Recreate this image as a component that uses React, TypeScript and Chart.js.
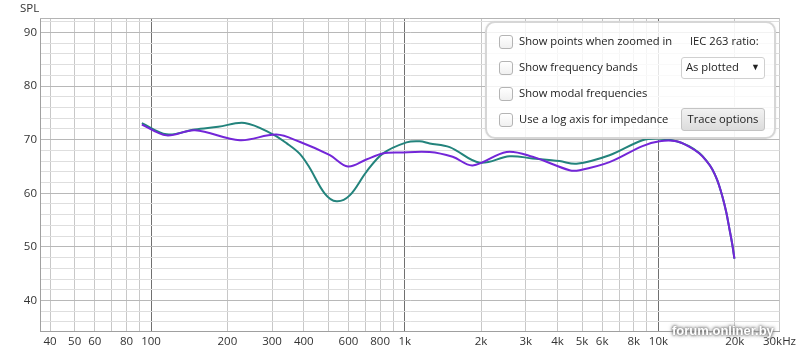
import React, { useEffect, useRef } from "react";
import { Chart, registerables } from "chart.js";
Chart.register(...registerables);

// ---- data ----
const tealFreq = [92, 115, 149, 184, 234, 302, 343, 385, 420, 483, 538, 607, 706, 819, 1016, 1145, 1254, 1503, 1974, 2591, 3190, 4077, 4753, 6412, 8650, 10090, 11770, 13200, 14500, 15450, 16300, 17070, 17870, 18520, 19040, 19560, 19930];
const tealSpl = [73.1, 71.0, 71.9, 72.4, 73.1, 71.0, 69.3, 67.4, 64.9, 60.0, 58.5, 59.6, 64.0, 67.4, 69.5, 69.7, 69.3, 68.6, 65.7, 66.9, 66.5, 66.0, 65.5, 67.1, 69.9, 70.2, 69.7, 68.8, 67.5, 66.1, 64.5, 62.4, 59.4, 56.4, 53.4, 50.4, 47.8];

const purpleFreq = [92, 115, 149, 224, 312, 385, 507, 597, 706, 819, 955, 1254, 1545, 1853, 2521, 3190, 4463, 4887, 6412, 8650, 10090, 11770, 13200, 14500, 15450, 16300, 17070, 17870, 18520, 19040, 19560, 19930];
const purpleSpl = [72.8, 70.8, 71.75, 69.9, 70.95, 69.6, 67.1, 65.0, 66.3, 67.4, 67.6, 67.7, 66.8, 65.2, 67.7, 66.8, 64.3, 64.3, 65.8, 68.8, 69.7, 69.7, 68.7, 67.4, 66.05, 64.5, 62.4, 59.4, 56.4, 53.4, 50.4, 47.8];

const xGridValues = [40, 50, 60, 70, 80, 90, 100, 200, 300, 400, 500, 600, 700, 800, 900, 1000, 2000, 3000, 4000, 5000, 6000, 7000, 8000, 9000, 10000, 20000, 30000];
const xMajorValues = [100, 1000, 10000];
const xLabelValues = [40, 50, 60, 80, 100, 200, 300, 400, 600, 800, 1000, 2000, 3000, 4000, 5000, 6000, 8000, 10000, 20000, 30000];
const xLabelTexts = ["40", "50", "60", "80", "100", "200", "300", "400", "600", "800", "1k", "2k", "3k", "4k", "5k", "6k", "8k", "10k", "20k", "30kHz"];

const yGridValues = [36, 38, 40, 42, 44, 46, 48, 50, 52, 54, 56, 58, 60, 62, 64, 66, 68, 70, 72, 74, 76, 78, 80, 82, 84, 86, 88, 90, 92];
const yLabelValues = [40, 50, 60, 70, 80, 90];

const legendRows = ["Show points when zoomed in", "Show frequency bands", "Show modal frequencies", "Use a log axis for impedance"];

const framePlugin = {
  id: "frame",
  beforeDatasetsDraw(chart: any) {
    const { ctx, chartArea } = chart;
    ctx.save();
    ctx.strokeStyle = "#b4b4b4";
    ctx.lineWidth = 1;
    ctx.beginPath();
    ctx.moveTo(chartArea.left, chartArea.top + 0.5);
    ctx.lineTo(chartArea.right, chartArea.top + 0.5);
    ctx.stroke();
    ctx.restore();
  },
};

export default function App() {
  const ref = useRef<HTMLCanvasElement>(null);
  useEffect(() => {
    document.body.style.margin = "0";
    const font = { family: '"Open Sans", sans-serif', size: 11.5 };
    const chart = new Chart(ref.current as HTMLCanvasElement, {
      type: "line",
      data: {
        datasets: [
          {
            data: purpleFreq.map((f, i) => ({ x: f, y: purpleSpl[i] })),
            borderColor: "#7326d8",
            borderWidth: 2,
            pointRadius: 0,
            tension: 0.35,
            fill: false,
          },
          {
            data: tealFreq.map((f, i) => ({ x: f, y: tealSpl[i] })),
            borderColor: "#23837c",
            borderWidth: 2,
            pointRadius: 0,
            tension: 0.35,
            fill: false,
          },
        ],
      },
      options: {
        animation: false,
        responsive: false,
        devicePixelRatio: 1,
        layout: { padding: { top: 18, right: 20, left: 0, bottom: 0 } },
        plugins: { legend: { display: false }, tooltip: { enabled: false } },
        scales: {
          x: {
            type: "logarithmic",
            min: 36.5,
            max: 30000,
            afterBuildTicks: (scale: any) => {
              scale.ticks = xGridValues.map((v) => ({ value: v }));
            },
            afterFit: (scale: any) => {
              scale.height = 23;
            },
            ticks: {
              autoSkip: false,
              maxRotation: 0,
              minRotation: 0,
              padding: 4,
              color: "#333",
              font,
              callback: (v: any) => {
                const i = xLabelValues.indexOf(Number(v));
                return i >= 0 ? xLabelTexts[i] : "";
              },
            },
            grid: {
              drawTicks: false,
              color: (c: any) => (c.tick && xMajorValues.includes(c.tick.value) ? "#707070" : "#c8c8c8"),
            },
            border: { display: true, color: "#a0a0a0" },
          },
          y: {
            type: "linear",
            min: 34.3,
            max: 92.7,
            afterBuildTicks: (scale: any) => {
              scale.ticks = yGridValues.map((v) => ({ value: v }));
            },
            afterFit: (scale: any) => {
              scale.width = 40;
            },
            ticks: {
              autoSkip: false,
              padding: 3,
              color: "#333",
              font,
              callback: (v: any) => (yLabelValues.includes(Number(v)) ? String(v) : ""),
            },
            grid: {
              drawTicks: false,
              color: (c: any) => (c.tick && c.tick.value % 10 === 0 ? "#b8b8b8" : "#dedede"),
            },
            border: { display: true, color: "#a0a0a0" },
          },
        },
      },
      plugins: [framePlugin],
    } as any);
    return () => chart.destroy();
  }, []);

  const rowTops = [42, 68, 94, 120];
  const textStyle: React.CSSProperties = {
    position: "absolute",
    fontSize: 11.2,
    color: "#222",
    whiteSpace: "nowrap",
    lineHeight: "14px",
  };
  return (
    <div
      style={{
        position: "relative",
        width: 800,
        height: 354,
        background: "#fff",
        overflow: "hidden",
        fontFamily: '"Open Sans", sans-serif',
      }}
    >
      <canvas ref={ref} width={800} height={354} style={{ position: "absolute", left: 0, top: 0, width: 800, height: 354 }} />
      <div style={{ ...textStyle, left: 20, top: 1, fontSize: 11.5, color: "#333" }}>SPL</div>
      <div
        style={{
          position: "absolute",
          left: 485,
          top: 21,
          width: 287,
          height: 114,
          border: "2px solid #d6d6d6",
          borderRadius: 10,
          background: "rgba(255,255,255,0.82)",
          boxShadow: "0 0 2px rgba(0,0,0,0.1)",
        }}
      />
      {legendRows.map((t, i) => (
        <React.Fragment key={t}>
          <div
            style={{
              position: "absolute",
              left: 499,
              top: rowTops[i] - 7,
              width: 12,
              height: 12,
              border: "1px solid #b4b4b4",
              borderRadius: 3,
              background: "linear-gradient(#ffffff, #f0f0f0)",
            }}
          />
          <div style={{ ...textStyle, left: 519, top: rowTops[i] - 8 }}>{t}</div>
        </React.Fragment>
      ))}
      <div style={{ ...textStyle, left: 690, top: rowTops[0] - 8 }}>IEC 263 ratio:</div>
      <div
        style={{
          position: "absolute",
          left: 681,
          top: 57,
          width: 82,
          height: 20,
          border: "1px solid #d0d0d0",
          borderRadius: 3,
          background: "#fff",
        }}
      />
      <div style={{ ...textStyle, left: 686, top: 60 }}>As plotted</div>
      <div style={{ ...textStyle, left: 751, top: 60, fontSize: 9 }}>▼</div>
      <div
        style={{
          position: "absolute",
          left: 681,
          top: 108,
          width: 82,
          height: 21,
          border: "1px solid #c4c4c4",
          borderRadius: 3,
          background: "linear-gradient(#f2f2f2, #dcdcdc)",
        }}
      />
      <div style={{ ...textStyle, left: 681, top: 112, width: 84, textAlign: "center" }}>Trace options</div>
      <div
        style={{
          position: "absolute",
          left: 672,
          top: 323,
          fontFamily: '"Liberation Sans", Arial, sans-serif',
          fontWeight: "bold",
          fontSize: 13,
          color: "#fff",
          whiteSpace: "nowrap",
          textShadow: "0 0 3px #777, 0 0 3px #777, 0 0 5px #999",
        }}
      >
        forum.onliner.by
      </div>
    </div>
  );
}
